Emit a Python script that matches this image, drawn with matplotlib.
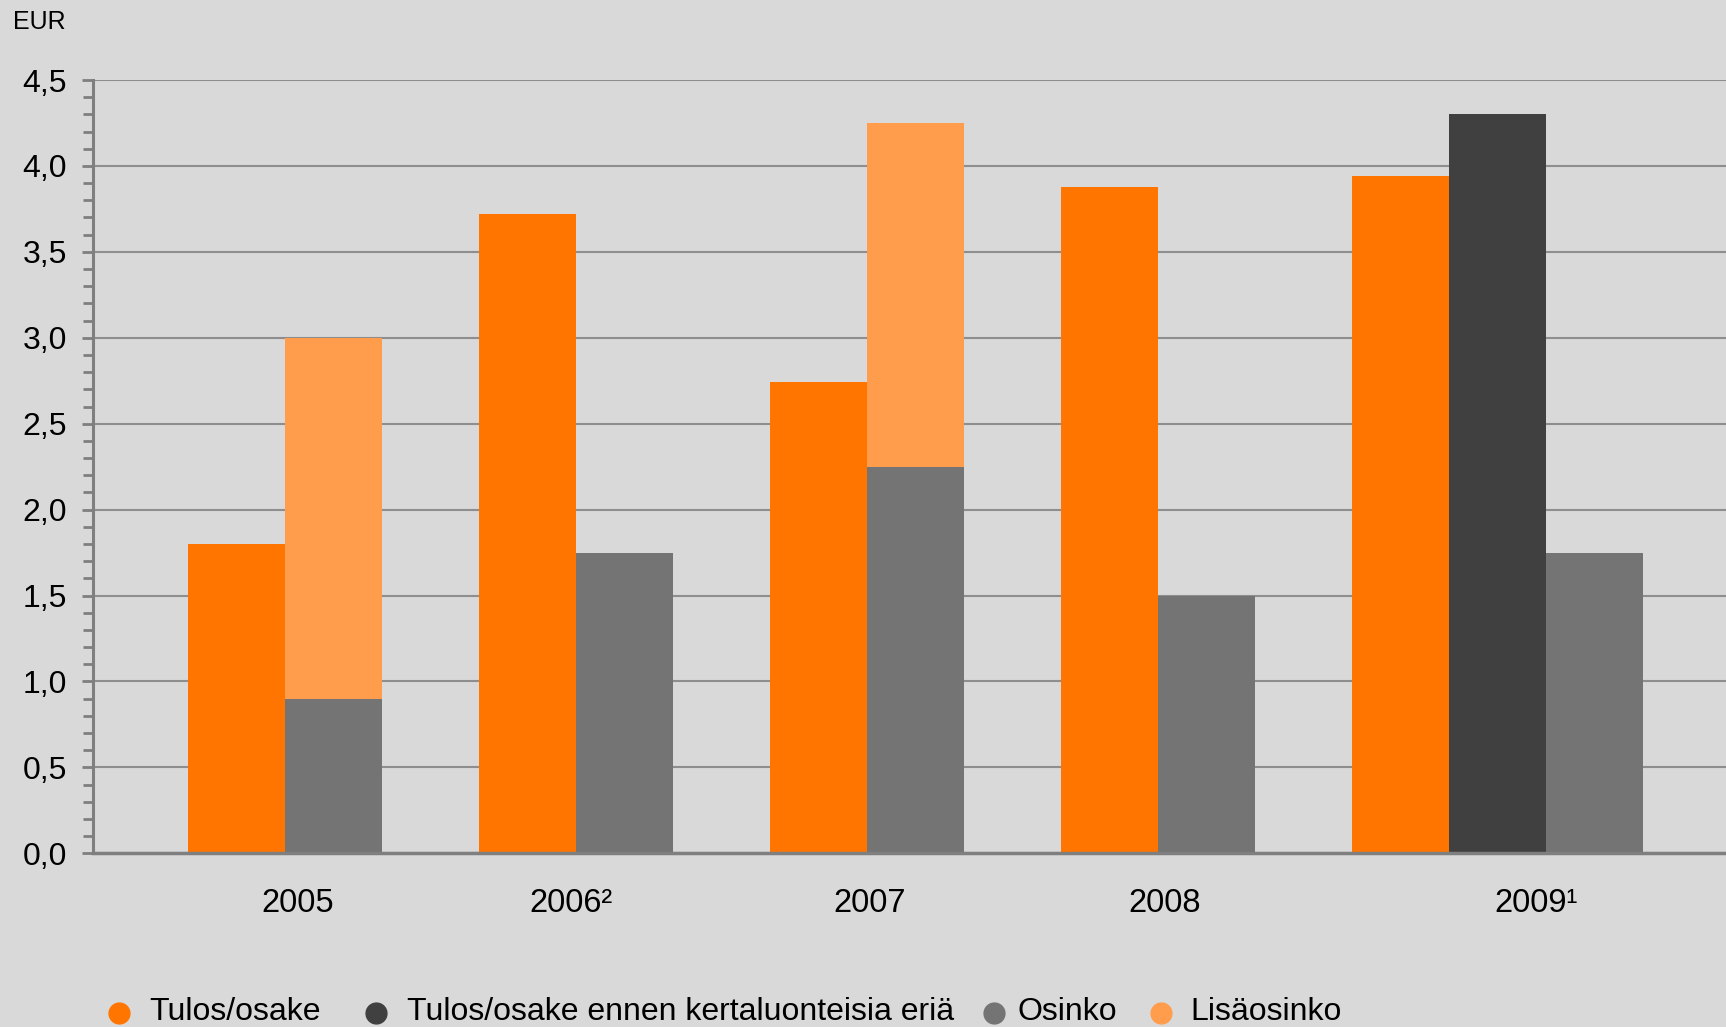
import matplotlib
matplotlib.use("Agg")
import matplotlib.pyplot as plt
from matplotlib.lines import Line2D
from matplotlib.ticker import MultipleLocator, FuncFormatter

plt.rcParams["font.family"] = ["Liberation Sans", "DejaVu Sans"]

# Data (EUR per share)
years = ["2005", "2006²", "2007", "2008", "2009¹"]
tulos_osake = [1.80, 3.72, 2.74, 3.88, 3.94]
tulos_ennen_kertaluonteisia = [None, None, None, None, 4.30]
osinko = [0.90, 1.75, 2.25, 1.50, 1.75]
lisaosinko = [2.10, 0.0, 2.00, 0.0, 0.0]

# Year label positions along the category axis
label_pos = [0.376, 1.317, 2.342, 3.356, 4.633]

series_names = ["Tulos/osake", "Tulos/osake ennen kertaluonteisia eriä",
                "Osinko", "Lisäosinko"]
colors = ["#FF7500", "#404040", "#747474", "#FF9D4D"]

BG = "#D9D9D9"
W = 1 / 3

fig = plt.figure(figsize=(17.26, 10.27), dpi=100, facecolor=BG)
ax = fig.add_axes([0.0537, 0.1691, 1 - 0.0537, 0.7530])
ax.set_facecolor(BG)

for i in range(len(years)):
    ax.bar(i + W / 2, tulos_osake[i], width=W, color=colors[0], zorder=3)
    slot = 1
    if tulos_ennen_kertaluonteisia[i] is not None:
        ax.bar(i + W * 1.5, tulos_ennen_kertaluonteisia[i], width=W,
               color=colors[1], zorder=3)
        slot = 2
    xo = i + W * (slot + 0.5)
    ax.bar(xo, osinko[i], width=W, color=colors[2], zorder=3)
    if lisaosinko[i] > 0:
        ax.bar(xo, lisaosinko[i], bottom=osinko[i], width=W,
               color=colors[3], zorder=3)

ax.set_xlim(-0.328, 5.286)
ax.set_ylim(0, 4.5)

ax.yaxis.set_major_locator(MultipleLocator(0.5))
ax.yaxis.set_minor_locator(MultipleLocator(0.1))
ax.yaxis.set_major_formatter(FuncFormatter(lambda v, p: f"{v:.1f}".replace(".", ",")))
ax.grid(axis="y", which="major", color="#8E8E8E", linewidth=1.5, zorder=1)

ax.tick_params(axis="y", which="major", direction="out", color="#7F7F7F",
               width=2, length=8, pad=10.5, labelsize=23, labelcolor="#000000")
ax.tick_params(axis="y", which="minor", direction="out", color="#7F7F7F",
               width=2, length=7)
ax.set_xticks(label_pos)
ax.set_xticklabels(years)
ax.tick_params(axis="x", length=0, pad=25, labelsize=23.5, labelcolor="#000000")

for s in ["top", "right"]:
    ax.spines[s].set_visible(False)
ax.spines["left"].set_color("#7F7F7F")
ax.spines["left"].set_linewidth(2.2)
ax.spines["bottom"].set_color("#7F7F7F")
ax.spines["bottom"].set_linewidth(2.5)
ax.spines["bottom"].set_zorder(4)

fig.text(13 / 1726, 1 - 22 / 1027, "EUR", fontsize=18, va="center", ha="left")

# Legend row
leg_marker_x = [119, 376, 994, 1161]
leg_text_x = [149, 407, 1017, 1190]
leg_y = 1 - 1012.5 / 1027
for name, c, mx, tx in zip(series_names, colors, leg_marker_x, leg_text_x):
    fig.add_artist(Line2D([mx / 1726], [leg_y], marker="o", markersize=15,
                          color=c, linestyle="none", transform=fig.transFigure))
    fig.text(tx / 1726, leg_y, name, fontsize=23, va="center", ha="left")

fig.savefig("out.png", dpi=100, facecolor=BG)
